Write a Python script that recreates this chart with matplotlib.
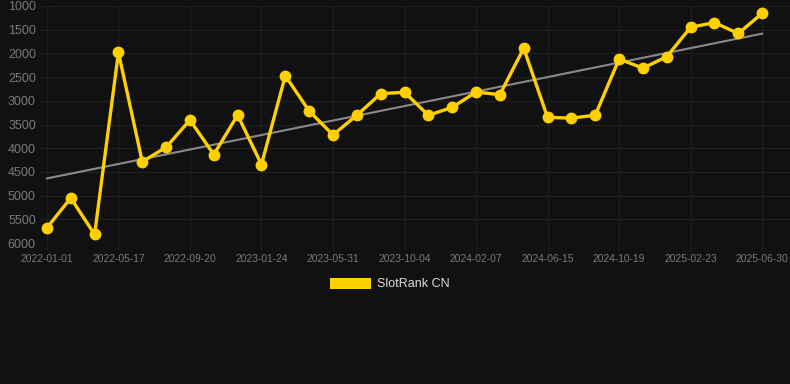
import numpy as np
import matplotlib
matplotlib.use("Agg")
import matplotlib.pyplot as plt

# rank values (lower = better, axis inverted)
ranks = [5680, 5050, 5820, 1980, 4285, 3980, 3405, 4135, 3300, 4345,
         2470, 3215, 3720, 3305, 2850, 2820, 3305, 3140, 2815, 2870,
         1890, 3350, 3365, 3305, 2120, 2310, 2070, 1450, 1350, 1580,
         1155]
tick_dates = ["2022-01-01", "2022-05-17", "2022-09-20", "2023-01-24",
              "2023-05-31", "2023-10-04", "2024-02-07", "2024-06-15",
              "2024-10-19", "2025-02-23", "2025-06-30"]
series_name = "SlotRank CN"

BG = "#111111"
GOLD = "#FFD000"
GRID = "#1f1f1f"
TICK = "#7a7a7a"

plt.rcParams["font.family"] = ["Liberation Sans", "DejaVu Sans"]

fig = plt.figure(figsize=(7.9, 3.84), dpi=100, facecolor=BG)
ax = fig.add_axes([40 / 790, 1 - 243 / 384, 750 / 790, 237 / 384], facecolor=BG)

x = np.arange(len(ranks))
# least-squares trend line
k, b = np.polyfit(x, ranks, 1)
ax.plot([x[0], x[-1]], [k * x[0] + b, k * x[-1] + b], color="#8a8a8a", lw=1.5, zorder=2)

ax.plot(x, ranks, color=GOLD, lw=2.4, marker="o", ms=7.5, solid_joinstyle="miter",
        label=series_name, zorder=3)

ax.set_ylim(6000, 1000)
ax.set_yticks(np.arange(1000, 6001, 500))
ax.set_xlim(-0.29, 31.17)
ax.set_xticks(np.arange(0, len(ranks), 3))
ax.set_xticklabels(tick_dates)

ax.grid(True, color=GRID, lw=0.9)
for s in ax.spines.values():
    s.set_visible(False)
ax.tick_params(axis="y", colors=TICK, labelsize=9, length=0, pad=3)
ax.tick_params(axis="x", colors=TICK, labelsize=7.4, length=5, width=0.9,
               color=GRID, pad=3)

# legend as a filled box below the plot
handle = plt.Rectangle((0, 0), 1, 1, facecolor=GOLD, edgecolor="none")
fig.legend([handle], [series_name], loc="center", bbox_to_anchor=(390 / 790, 1 - 284 / 384),
           frameon=False, labelcolor="#dddddd", fontsize=9, handlelength=3.3,
           handleheight=1.0, handletextpad=0.5)

fig.savefig("out.png", dpi=100, facecolor=BG)
